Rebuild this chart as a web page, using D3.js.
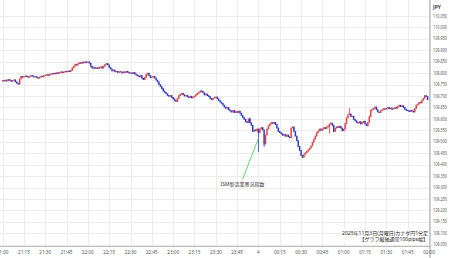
<!DOCTYPE html>
<html>
<head>
<meta charset="utf-8">
<script src="https://cdn.jsdelivr.net/npm/d3@7"></script>
<style>
  body { margin: 0; background: #fff; }
  svg { display: block; font-family: "Noto Sans", "Noto Sans CJK JP", sans-serif; }
</style>
</head>
<body>
<div id="chart"></div>
<script>
// CAD/JPY 1-minute closes, 21:00 -> 01:59 (one row = 15 minutes)
const startTime = new Date(2025, 10, 3, 21, 0);
const firstOpen = 109.766;
const closes = [
  109.768, 109.765, 109.770, 109.766, 109.772, 109.769, 109.764, 109.768, 109.771, 109.762, 109.756, 109.752, 109.775, 109.786, 109.782,
  109.784, 109.788, 109.785, 109.782, 109.786, 109.790, 109.787, 109.783, 109.785, 109.781, 109.778, 109.783, 109.787, 109.784, 109.789,
  109.791, 109.794, 109.790, 109.795, 109.798, 109.796, 109.800, 109.797, 109.802, 109.799, 109.803, 109.806, 109.802, 109.805, 109.808,
  109.806, 109.810, 109.807, 109.812, 109.823, 109.830, 109.838, 109.835, 109.842, 109.846, 109.843, 109.848, 109.845, 109.850, 109.847,
  109.849, 109.844, 109.830, 109.822, 109.826, 109.821, 109.824, 109.820, 109.825, 109.828, 109.822, 109.830, 109.838, 109.842, 109.836,
  109.825, 109.818, 109.810, 109.814, 109.806, 109.808, 109.803, 109.807, 109.805, 109.801, 109.806, 109.803, 109.808, 109.804, 109.800,
  109.802, 109.798, 109.803, 109.796, 109.792, 109.788, 109.784, 109.790, 109.778, 109.772, 109.781, 109.795, 109.800, 109.790, 109.780,
  109.783, 109.786, 109.778, 109.770, 109.762, 109.750, 109.742, 109.733, 109.722, 109.716, 109.710, 109.703, 109.699, 109.702, 109.694,
  109.688, 109.680, 109.676, 109.690, 109.702, 109.708, 109.712, 109.706, 109.700, 109.703, 109.697, 109.693, 109.699, 109.692, 109.696,
  109.700, 109.706, 109.712, 109.716, 109.723, 109.720, 109.714, 109.705, 109.709, 109.702, 109.698, 109.690, 109.684, 109.690, 109.694,
  109.696, 109.688, 109.680, 109.674, 109.668, 109.660, 109.652, 109.646, 109.650, 109.640, 109.635, 109.630, 109.637, 109.628, 109.632,
  109.628, 109.634, 109.625, 109.615, 109.606, 109.598, 109.588, 109.584, 109.600, 109.583, 109.572, 109.545, 109.552, 109.548, 109.556,
  109.540, 109.556, 109.562, 109.552, 109.490, 109.530, 109.556, 109.570, 109.578, 109.584, 109.580, 109.585, 109.575, 109.560, 109.545,
  109.540, 109.535, 109.528, 109.532, 109.524, 109.530, 109.522, 109.518, 109.560, 109.565, 109.545, 109.525, 109.505, 109.480, 109.462,
  109.440, 109.432, 109.445, 109.452, 109.458, 109.465, 109.472, 109.482, 109.498, 109.512, 109.525, 109.540, 109.548, 109.556, 109.550,
  109.556, 109.562, 109.558, 109.565, 109.570, 109.578, 109.582, 109.572, 109.545, 109.560, 109.566, 109.562, 109.568, 109.560, 109.548,
  109.555, 109.580, 109.605, 109.618, 109.622, 109.610, 109.612, 109.598, 109.592, 109.585, 109.582, 109.588, 109.578, 109.584, 109.590,
  109.578, 109.570, 109.585, 109.610, 109.638, 109.642, 109.646, 109.652, 109.640, 109.630, 109.628, 109.636, 109.640, 109.645, 109.642,
  109.646, 109.650, 109.644, 109.648, 109.642, 109.645, 109.650, 109.647, 109.655, 109.660, 109.654, 109.658, 109.650, 109.642, 109.638,
  109.636, 109.632, 109.638, 109.634, 109.630, 109.645, 109.660, 109.665, 109.672, 109.670, 109.682, 109.690, 109.702, 109.698, 109.684
];
// notable wicks (minute index from 21:00)
const wickMinutes = [180, 184, 174, 230, 244];
const wickLevels = [109.455, 109.477, 109.606, 109.536, 109.648];

const yTicks = [110.05, 110.0, 109.95, 109.9, 109.85, 109.8, 109.75, 109.7, 109.65, 109.6, 109.55,
  109.5, 109.45, 109.4, 109.35, 109.3, 109.25, 109.2, 109.15, 109.1, 109.05];
const xTickLabels = ["21:00", "21:15", "21:30", "21:45", "22:00", "22:15", "22:30", "22:45", "23:00",
  "23:15", "23:30", "23:45", "4", "00:15", "00:30", "00:45", "01:00", "01:15", "01:30", "01:45", "02:00"];
const currency = "JPY";
const eventLabel = "ISM製造業景況指数";
const eventMinute = 180;
const noteLines = ["2025年11月3日(月曜日)カナダ円1分足", "【グラフ縦軸通常100pips幅】"];

const W = 450, H = 258;
const plotRight = 430, axisY = 246.5;

const svg = d3.select("#chart").append("svg")
  .attr("width", W).attr("height", H);

const minute = (i) => d3.timeMinute.offset(startTime, i);
const x = d3.scaleTime()
  .domain([startTime, minute(300)])
  .range([2.6, 429]);
const y = d3.scaleLinear()
  .domain([109.05, 110.05])
  .range([244.7, 16]);

// grid
svg.append("g").selectAll("line").data(yTicks).join("line")
  .attr("x1", 0).attr("x2", plotRight)
  .attr("y1", d => Math.round(y(d)) + 0.5).attr("y2", d => Math.round(y(d)) + 0.5)
  .attr("stroke", "#ececec").attr("stroke-width", 1);

svg.append("g").selectAll("line").data(xTickLabels).join("line")
  .attr("x1", (d, i) => Math.round(x(minute(i * 15))) + 0.5)
  .attr("x2", (d, i) => Math.round(x(minute(i * 15))) + 0.5)
  .attr("y1", 0).attr("y2", axisY)
  .attr("stroke", "#ececec").attr("stroke-width", 1);

// axes lines
svg.append("line").attr("x1", 0).attr("x2", plotRight).attr("y1", axisY).attr("y2", axisY)
  .attr("stroke", "#bdbdbd");
svg.append("line").attr("x1", plotRight).attr("x2", plotRight).attr("y1", 0).attr("y2", H)
  .attr("stroke", "#9e9e9e");

// y labels
svg.append("g").selectAll("text").data(yTicks).join("text")
  .attr("x", 433).attr("y", d => y(d))
  .attr("dy", "0.35em")
  .attr("font-size", 4.6).attr("fill", "#555")
  .attr("textLength", 14).attr("lengthAdjust", "spacingAndGlyphs")
  .text(d => d3.format(".3f")(d));
svg.append("text").attr("x", 433).attr("y", 8.5)
  .attr("font-size", 5).attr("font-weight", "bold").attr("fill", "#444")
  .text(currency);

// x labels
svg.append("g").selectAll("text").data(xTickLabels).join("text")
  .attr("x", (d, i) => x(minute(i * 15)))
  .attr("y", 253.5)
  .attr("text-anchor", "middle")
  .attr("font-size", 4.6).attr("fill", "#555")
  .text(d => d);

// candles
const candles = closes.map((c, i) => ({
  t: minute(i),
  open: i === 0 ? firstOpen : closes[i - 1],
  close: c
}));
const up = "#e0413f", down = "#2b36cf";
const colorOf = d => d.close >= d.open ? up : down;

svg.append("g").selectAll("line").data(wickMinutes).join("line")
  .attr("x1", d => x(minute(d))).attr("x2", d => x(minute(d)))
  .attr("y1", (d, i) => y(wickLevels[i]))
  .attr("y2", d => y(candles[d].close))
  .attr("stroke", d => colorOf(candles[d]))
  .attr("stroke-width", 0.8);

svg.append("g").selectAll("rect").data(candles).join("rect")
  .attr("x", d => x(d.t) - 0.75)
  .attr("width", 1.5)
  .attr("y", d => Math.min(y(d.open), y(d.close)) - 0.4)
  .attr("height", d => Math.abs(y(d.open) - y(d.close)) + 0.8)
  .attr("fill", colorOf);

// event annotation
svg.append("line")
  .attr("x1", x(minute(eventMinute))).attr("y1", y(109.515))
  .attr("x2", 242.5).attr("y2", 179.5)
  .attr("stroke", "#3ccf3c").attr("stroke-width", 0.8);
svg.append("text").attr("x", 242.5).attr("y", 185.5)
  .attr("text-anchor", "middle")
  .attr("font-size", 5).attr("fill", "#333")
  .text(eventLabel);

// note
svg.append("rect").attr("x", 344).attr("y", 229.5).attr("width", 85).attr("height", 13)
  .attr("fill", "#fff");
svg.append("g").selectAll("text").data(noteLines).join("text")
  .attr("x", 428).attr("y", (d, i) => 235 + i * 6)
  .attr("text-anchor", "end")
  .attr("font-size", 5).attr("fill", "#222")
  .text(d => d);
</script>
</body>
</html>
